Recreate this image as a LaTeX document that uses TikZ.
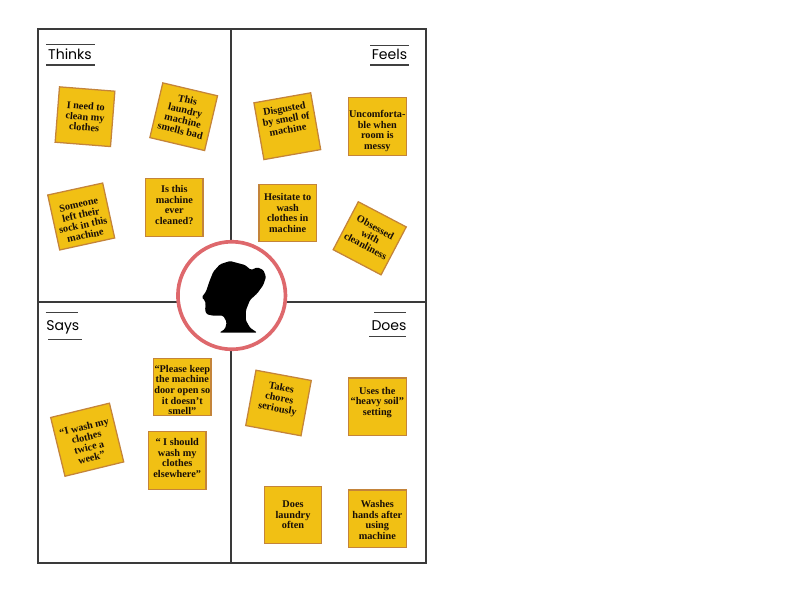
\documentclass[tikz,border=0pt]{standalone}
\usepackage{fontspec}
\setmainfont{Liberation Serif}
\newfontfamily\titlefont{Poppins}
\usetikzlibrary{positioning}
\definecolor{EmpInk}{RGB}{24,14,8}
\definecolor{EmpFrame}{RGB}{58,58,58}
\definecolor{EmpYellow}{RGB}{241,192,20}
\definecolor{EmpEdge}{RGB}{196,132,58}
\definecolor{EmpRing}{RGB}{222,104,108}
\newcommand{\empdrop}[1]{\rule{0pt}{#1pt}}
\tikzset{
  emp/sticky/.style={
    draw=EmpEdge,
    line width=0.9pt,
    fill=EmpYellow,
    align=center,
    text=EmpInk,
    minimum size=41pt,
    inner sep=0pt,
    font=\fontsize{7.3}{7.5}\selectfont\bfseries
  },
  emp/title/.style={font=\fontsize{10}{12}\titlefont, text=black, inner sep=0pt, anchor=base},
  emp/rule/.style={line width=0.8pt, draw=black!75},
  emp/frame/.style={line width=0.75pt, draw=EmpFrame},
  emp/ring/.style={circle, draw=EmpRing, line width=2.6pt, fill=white, minimum size=76.5pt, inner sep=0pt}
}
\begin{document}
\begin{tikzpicture}[x=0.025cm,y=-0.025cm]
  \useasboundingbox (0,0) rectangle (800,600);
  % quadrants
  \draw[emp/frame] (38,29) rectangle (426,563);
  \draw[emp/frame] (231,29) -- (231,563);
  \draw[emp/frame] (38,302) -- (426,302);
  % titles
  \node[emp/title] (thinks) at (70,59.3) {Thinks};
  \node[emp/title] (feels) at (389.5,59.3) {Feels};
  \node[emp/title] (says) at (62.8,330) {Says};
  \node[emp/title] (does) at (389,330) {Does};
  \draw[emp/rule] (46,44.5) -- (95,44.5);
  \draw[emp/rule] (46,65) -- (95,65);
  \draw[emp/rule] (370,45.5) -- (409,45.5);
  \draw[emp/rule] (370,65) -- (409,65);
  \draw[emp/rule] (45.5,312.5) -- (78,312.5);
  \draw[emp/rule] (48,339.5) -- (82,339.5);
  \draw[emp/rule] (374,312.5) -- (406,312.5);
  \draw[emp/rule] (369,336.5) -- (406,336.5);
  % thinks
  \node[emp/sticky,minimum size=39.5pt,rotate=-4.5] (clean) at (85,116.7) {I need to\\clean my\\clothes};
  \node[emp/sticky,minimum size=40pt,rotate=-13.3] (smells) at (183.7,116.7) {This\\laundry\\machine\\smells bad\\[-5.4pt]~};
  \node[emp/sticky,minimum size=40pt,rotate=12.3] (sock) at (81.2,216.5) {\empdrop{10}Someone\\left their\\sock in this\\machine};
  \node[emp/sticky] (cleaned) at (174.3,207.3) {Is this\\machine\\ever\\cleaned?\\[-4pt]~};
  % feels
  \node[emp/sticky,rotate=10] (disgusted) at (287.3,126.2) {Disgusted\\by smell of\\machine\\[2.8pt]~};
  \node[emp/sticky] (messy) at (377.3,126.3) {\empdrop{12.1}Uncomforta-\\ble when\\room is\\messy};
  \node[emp/sticky] (hesitate) at (287.7,213) {Hesitate to\\wash\\clothes in\\machine};
  \node[emp/sticky,minimum size=38.5pt,rotate=-27.7] (obsessed) at (369.7,238.3) {Obsessed\\with\\cleanliness\\[-4.7pt]~};
  % says
  \node[emp/sticky,minimum size=43pt,rotate=13.7] (twice) at (87.2,439.7) {\empdrop{8.6}``I wash my\\clothes\\twice a\\week''};
  \node[emp/sticky] (door) at (182.3,387) {\empdrop{9.3}``Please keep\\the machine\\door open so\\it doesn't\\smell''};
  \node[emp/sticky] (elsewhere) at (177.2,460.5) {`` I should\\wash my\\clothes\\elsewhere''\\[-4pt]~};
  % does
  \node[emp/sticky,minimum size=40pt,rotate=-10.5] (chores) at (278.5,403) {Takes\\chores\\seriously\\~};
  \node[emp/sticky] (soil) at (377.3,406.7) {Uses the\\``heavy soil''\\setting\\~};
  \node[emp/sticky] (laundry) at (293,515) {Does\\laundry\\often};
  \node[emp/sticky] (hands) at (377.3,518.7) {\empdrop{7.1}Washes\\hands after\\using\\machine};
  % persona
  \node[emp/ring] (persona) at (231.7,295.5) {};
  \fill[black,rounded corners=1pt] (230,261) -- (245,265) -- (251,270) -- (257.3,267.3) -- (263.3,270)
    -- (266,276.7) -- (263.3,285) -- (257.3,293.3) -- (250,300) -- (246,310) -- (245.7,320)
    -- (250,327.7) -- (257.3,332.7) -- (219.3,332.7) -- (225,329) -- (226.7,322.3) -- (223.3,315.7)
    -- (213.3,315.7) -- (206.7,314.3) -- (205,310) -- (205.7,305) -- (205,300.7) -- (201.7,297.3)
    -- (206,291.7) -- (209.3,281.7) -- (213.3,271.7) -- (220,264.3) -- cycle;
\end{tikzpicture}
\end{document}
